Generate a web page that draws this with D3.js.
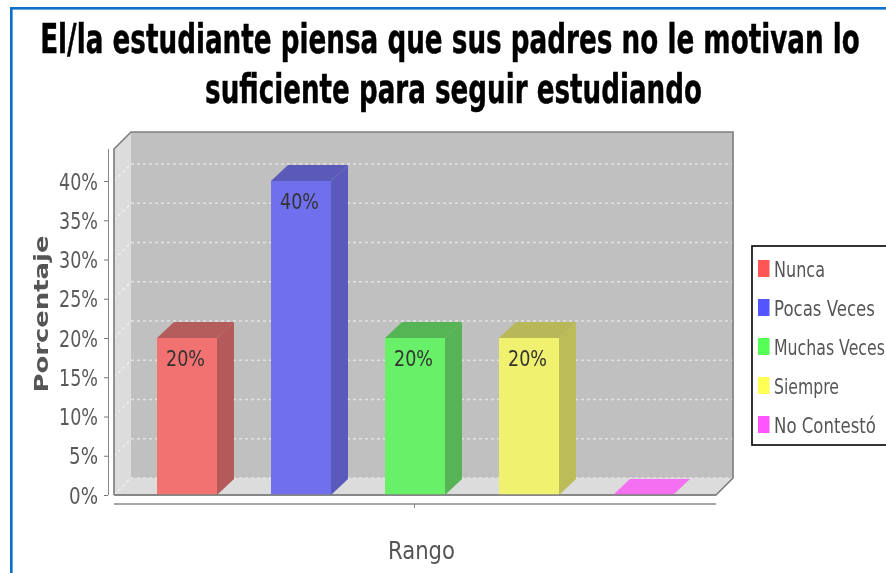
<!DOCTYPE html>
<html><head><meta charset="utf-8">
<script src="https://cdn.jsdelivr.net/npm/d3@7/dist/d3.min.js"></script>
<style>html,body{margin:0;padding:0;background:#fff;overflow:hidden}svg{display:block}text{font-family:"DejaVu Sans",sans-serif}</style>
</head><body><svg id="c" width="886" height="573"></svg>
<script>
const titleLines = ["El/la estudiante piensa que sus padres no le motivan lo", "suficiente para seguir estudiando"];
const categories = ["Nunca", "Pocas Veces", "Muchas Veces", "Siempre", "No Contestó"];
const values = [20, 40, 20, 20, 0];
const yTicks = [0, 5, 10, 15, 20, 25, 30, 35, 40];
const yTitle = "Porcentaje";
const xTitle = "Rango";
const frontColors = ["#f27272", "#7070ee", "#68f068", "#f1f170", "#f570f0"];
const topColors = ["#b55b5b", "#5a5ab8", "#55b555", "#b8b858", "#f570f0"];
const sideColors = ["#b45a5a", "#5a5abc", "#56b456", "#bcbc58", "#f570f0"];
const swatchColors = ["#ff5555", "#5555ff", "#55ff55", "#ffff55", "#ff55ff"];

const svg = d3.select("#c");
const defs = svg.append("defs");
defs.append("filter").attr("id","soft").attr("filterUnits","userSpaceOnUse")
  .attr("x",0).attr("y",0).attr("width",886).attr("height",573)
  .append("feGaussianBlur").attr("stdDeviation",0.45);
const root = svg.append("g").attr("filter","url(#soft)");

// Squeezes a text horizontally to a given width, anchored at x (start / middle)
function fitText(sel, px, py, width, anchor) {
  const natural = sel.node().getComputedTextLength();
  sel.attr("text-anchor", anchor)
     .attr("transform", `translate(${px},${py}) scale(${width/natural},1)`);
  return sel;
}

// page border
root.append("rect").attr("x",10).attr("y",7).attr("width",876).attr("height",2.6).attr("fill","#0a70c8");
root.append("rect").attr("x",10).attr("y",7).attr("width",2.6).attr("height",566).attr("fill","#0a70c8");

// geometry
const dx = 17, dy = 17;
const plotL = 114, plotR = 716;
const y = d3.scaleLinear().domain([0,40]).range([495,181]);
const x = d3.scaleBand().domain(categories).range([157,673]).paddingInner(0.4737).paddingOuter(0);
const top0 = 149;
const pts = a => a.map(p=>p.join(",")).join(" ");

// walls
root.append("polygon").attr("points",pts([[plotL+dx,top0-dy],[plotR+dx,top0-dy],[plotR+dx,y(0)-dy],[plotL+dx,y(0)-dy]])).attr("fill","#c0c0c0");
root.append("polygon").attr("points",pts([[plotL,top0],[plotL+dx,top0-dy],[plotL+dx,y(0)-dy],[plotL,y(0)]])).attr("fill","#dcdcdc");
root.append("polygon").attr("points",pts([[plotL,y(0)],[plotL+dx,y(0)-dy],[plotR+dx,y(0)-dy],[plotR,y(0)]])).attr("fill","#dcdcdc");

// gridlines
yTicks.forEach(t=>{
  root.append("line").attr("x1",plotL+dx).attr("x2",plotR+dx).attr("y1",y(t)-dy).attr("y2",y(t)-dy)
    .attr("stroke","#e2e2e2").attr("stroke-width",1.3).attr("stroke-dasharray","3 3");
  root.append("line").attr("x1",plotL).attr("x2",plotL+dx).attr("y1",y(t)).attr("y2",y(t)-dy)
    .attr("stroke","#f0f0f0").attr("stroke-width",1.3).attr("stroke-dasharray","3 3");
});

// wall outlines
root.append("polyline").attr("fill","none").attr("stroke","#808080").attr("stroke-width",1.7)
  .attr("points",pts([[plotL,y(0)],[plotL,top0],[plotL+dx,top0-dy],[plotR+dx,top0-dy],[plotR+dx,y(0)-dy],[plotR,y(0)],[plotL,y(0)]]));

// bars
const barD = 17;
categories.forEach((c,i)=>{
  const l = x(c), r = l + x.bandwidth(), t = y(values[i]), b = y(0);
  if (values[i] > 0) {
    root.append("polygon").attr("points",pts([[r,t],[r+barD,t-16],[r+barD,b-16],[r,b]])).attr("fill",sideColors[i]);
    root.append("polygon").attr("points",pts([[l,t],[l+barD,t-16],[r+barD,t-16],[r,t]])).attr("fill",topColors[i]);
    root.append("rect").attr("x",l).attr("y",t).attr("width",x.bandwidth()).attr("height",b-t).attr("fill",frontColors[i]);
    fitText(root.append("text").attr("font-size",22).attr("fill","#333").text(values[i]+"%"),
      l+x.bandwidth()/2-1.5, t+28, 39, "middle");
  } else {
    root.append("polygon").attr("points",pts([[l,b],[l+barD,b-16],[r+barD,b-16],[r,b]])).attr("fill",frontColors[i]);
  }
});
root.append("line").attr("x1",plotL).attr("x2",plotR).attr("y1",y(0)).attr("y2",y(0)).attr("stroke","#808080").attr("stroke-width",1.7);

// y axis
const yAxis = d3.axisLeft(y).tickValues(yTicks).tickFormat("").tickSizeOuter(0).tickSize(4);
const ga = root.append("g").attr("transform","translate(108,0)").call(yAxis);
ga.select(".domain").attr("stroke","#888").attr("d","M0.5,149V495");
ga.selectAll(".tick line").attr("stroke","#777");
yTicks.forEach(t=>{
  fitText(root.append("text").attr("font-size",23).attr("fill","#5a5a5a").text(t+"%"),
    98, y(t)+8.5, t<10?29:39, "end");
});

// x axis
root.append("line").attr("x1",plotL).attr("x2",plotR).attr("y1",504).attr("y2",504).attr("stroke","#8a8a8a").attr("stroke-width",1.4);
root.append("line").attr("x1",414.5).attr("x2",414.5).attr("y1",504).attr("y2",508).attr("stroke","#888");

// axis titles
const yt = root.append("text").attr("font-size",19).attr("font-weight","bold").attr("fill","#555").attr("text-anchor","middle").text(yTitle);
yt.attr("transform",`translate(48,314) rotate(-90) scale(${157/yt.node().getComputedTextLength()},1)`);
fitText(root.append("text").attr("font-size",24).attr("fill","#555").text(xTitle), 421.5, 559, 67, "middle");

// title
const titleX = [450, 453.5], titleY = [52.5, 103], titleW = [820, 497];
titleLines.forEach((s,i)=>{
  fitText(root.append("text").attr("font-size",40).attr("font-weight","bold").attr("fill","#000")
    .attr("stroke","#000").attr("stroke-width",0.5).text(s), titleX[i], titleY[i], titleW[i], "middle");
});

// legend
root.append("rect").attr("x",752).attr("y",246).attr("width",150).attr("height",199).attr("fill","#fff").attr("stroke","#111").attr("stroke-width",1.7);
const ly = d3.scalePoint().domain(categories).range([269,425]);
const lw = [51, 101, 111, 65, 102];
categories.forEach((c,i)=>{
  root.append("rect").attr("x",758).attr("y",ly(c)-9).attr("width",11.5).attr("height",17).attr("fill",swatchColors[i]);
  fitText(root.append("text").attr("font-size",22).attr("fill","#555").text(c), 774, ly(c)+8, lw[i], "start");
});
</script></body></html>
